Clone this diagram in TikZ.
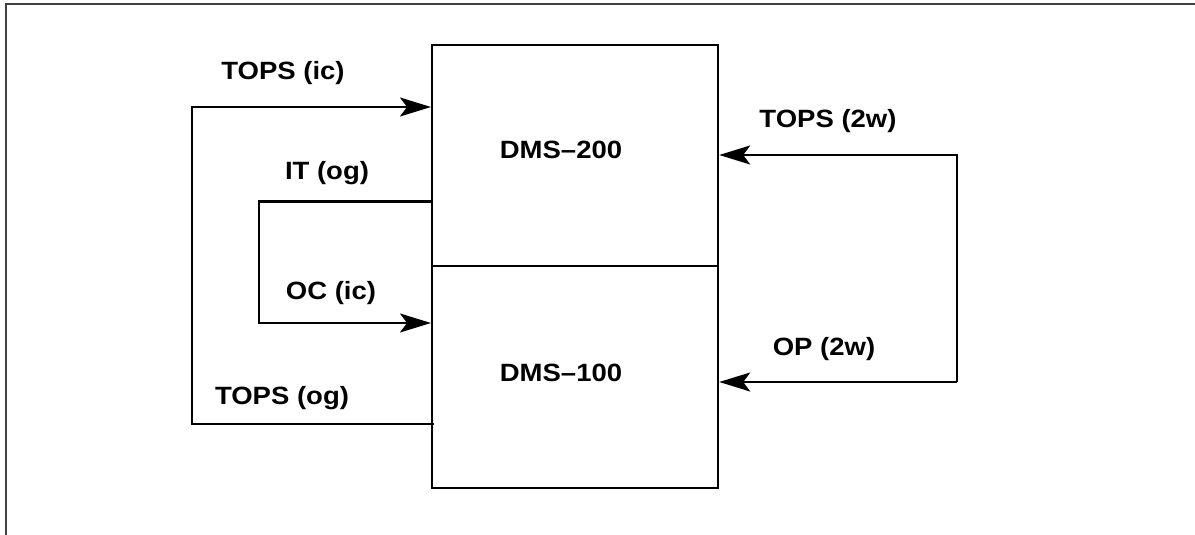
\documentclass[tikz,border=0pt]{standalone}
\usepackage{fontspec}
\setmainfont{Liberation Sans}
\usetikzlibrary{arrows.meta}
\newcommand\lblbox[1]{\scalebox{1.1}[1]{#1}}
\tikzset{
  lbl/.style={anchor=base, inner sep=0pt, font=\fontsize{25}{25}\selectfont\bfseries},
  wire/.style={line width=2.2pt},
  arr/.style={wire, -{Stealth[length=31pt,width=19pt,inset=7pt]}},
  frame/.style={line width=2pt, draw=black!75}
}
\begin{document}
\begin{tikzpicture}[x=1pt,y=-1pt]
\useasboundingbox (0,0) rectangle (1195,535);
% frame
\draw[frame] (6,535) -- (6,4) -- (1195,4);
% switches
\node[draw, line width=2.2pt, minimum width=286pt, minimum height=221pt, inner sep=0pt, anchor=north west] (dms200) at (431,44) {};
\node[draw, line width=2.2pt, minimum width=286pt, minimum height=222pt, inner sep=0pt, anchor=north west] (dms100) at (431,265) {};
\node[lbl] at (561,158) {\lblbox{DMS--200}};
\node[lbl] at (561,381) {\lblbox{DMS--100}};
% coordinates
\coordinate (a1) at (192,107);
\coordinate (a2) at (192,424);
\coordinate (b1) at (259,201.5);
\coordinate (b2) at (259,323);
\coordinate (c1) at (957,155);
\coordinate (c2) at (957,382);
% left connectors
\draw[arr] (a2 -| dms100.west) ++(3,0) -- (a2) -- (a1) -- (a1 -| dms200.west);
\draw[arr] (b1 -| dms200.west) -- (b1) -- (b2) -- (b2 -| dms100.west);
% right connectors
\draw[arr] (c2) -- (c1) -- (c1 -| dms200.east);
\draw[arr] (c2) -- (c2 -| dms100.east);
% labels
\node[lbl] (l1) at (283,80) {\lblbox{TOPS (ic)}};
\node[lbl] (l2) at (327,179) {\lblbox{IT (og)}};
\node[lbl] (l3) at (331,299) {\lblbox{OC (ic)}};
\node[lbl] (l4) at (282,404) {\lblbox{TOPS (og)}};
\node[lbl] (l5) at (828,128) {\lblbox{TOPS (2w)}};
\node[lbl] (l6) at (824,355) {\lblbox{OP (2w)}};
\end{tikzpicture}
\end{document}
